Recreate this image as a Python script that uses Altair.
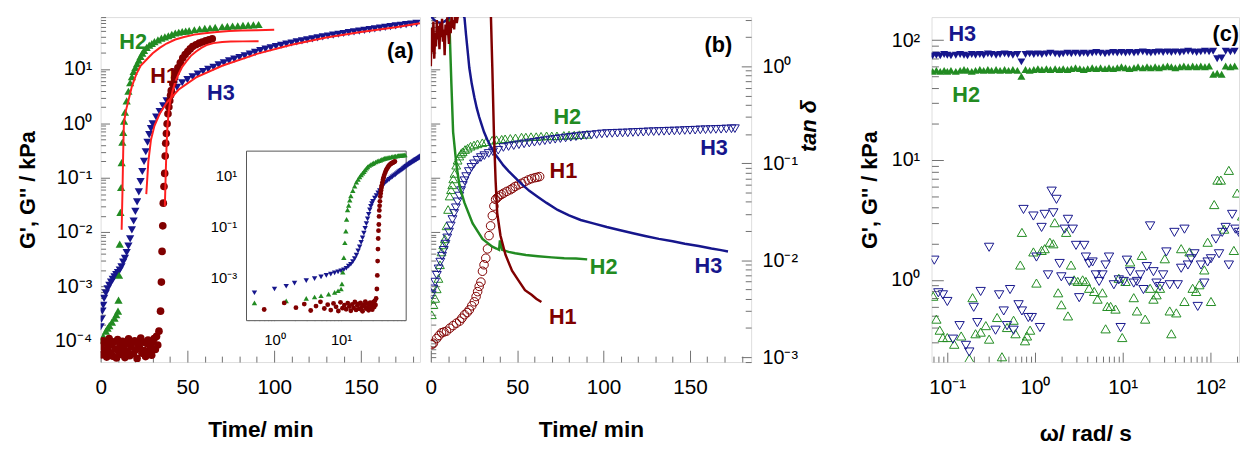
import math
import altair as alt
import pandas as pd

FONT = "Liberation Sans"
GREEN = "#228b22"
NAVY = "#16168c"
DRED = "#800000"
RED = "#ff1f1f"
FRAME = "#555555"
TICK = "#707070"

# ---------------- panel (a): G' vs time ----------------
A_H1_T = [0.0, 0.7, 1.4, 2.1, 2.8, 3.5, 4.2, 4.9, 5.6, 6.3, 7.0, 7.7, 8.4, 9.1, 9.8, 10.5,
          11.2, 11.9, 12.6, 13.3, 14.0, 14.7, 15.4, 16.1, 16.8, 17.5, 18.2, 18.9, 19.6, 20.3,
          21.0, 21.7, 22.4, 23.1, 23.8, 24.5, 25.2, 25.9, 26.6, 27.3, 28.0, 28.7, 29.4, 30.1,
          30.8, 31.5, 32.2, 32.9,
          33.6, 34.5, 35.0, 35.4, 35.8, 36.1, 36.5, 36.9, 37.2, 37.5, 37.9, 38.3, 38.8, 39.3,
          39.8, 40.3, 40.7, 41.6, 42.6, 43.5, 44.5, 45.9, 47.3, 48.7, 50.2, 51.6, 53.0, 54.9,
          56.8, 58.6, 60.5, 62.4, 64.3]
A_H1_G = [8.0e-5, 5.5e-5, 1.0e-4, 6.5e-5, 9.0e-5, 5.0e-5, 7.5e-5, 1.1e-4, 6.0e-5, 8.5e-5,
          5.2e-5, 9.5e-5, 7.0e-5, 4.8e-5, 1.05e-4, 6.2e-5, 8.2e-5, 5.6e-5, 9.8e-5, 7.2e-5,
          4.9e-5, 8.8e-5, 6.4e-5, 1.08e-4, 5.3e-5, 7.8e-5, 9.2e-5, 5.8e-5, 1.0e-4, 6.8e-5,
          4.7e-5, 8.6e-5, 7.4e-5, 1.12e-4, 5.9e-5, 9.4e-5, 6.6e-5, 5.1e-5, 8.9e-5, 1.03e-4,
          6.1e-5, 7.7e-5, 5.4e-5, 9.7e-5, 1.1e-4, 6.9e-5, 1.2e-4, 8.3e-5,
          1.5e-4, 3.5e-4, 1.2e-3, 4.4e-3, 0.013, 0.034, 0.069, 0.12, 0.25, 0.43,
          0.65, 0.98, 1.5, 2.0, 2.6, 3.3, 4.0, 5.3, 6.9, 8.6,
          10.5, 13, 16, 18.5, 21, 23.5, 26, 28, 30, 31.5, 33, 34.5, 36]

A_H2_T = [0.5, 1.5, 3.0, 4.0, 5.0, 6.5, 8.0, 9.0, 10.0, 10.3, 10.6, 11.0, 11.4, 11.8, 12.1,
          12.5, 13.0, 13.5, 14, 15, 16, 17, 18, 19, 20, 21, 22, 23, 24, 25, 26.5, 28, 29.5,
          31, 33, 35, 37, 39, 41, 43, 45, 47, 49, 51, 54, 57, 60, 63, 66, 70, 73, 76, 79, 82,
          85, 88, 91]
A_H2_G = [1.0e-4, 1.2e-4, 1.5e-4, 1.7e-4, 1.9e-4, 2.2e-4, 2.6e-4, 3.0e-4, 3.5e-4, 5.6e-4,
          1.6e-3, 6.0e-3, 0.023, 0.066, 0.19, 0.45, 0.68, 1.1, 1.6, 2.6, 3.9, 5.6, 7.2, 9.0,
          10.7, 12.5, 14.5, 17, 19.5, 22, 25, 27.5, 29.5, 32, 34.5, 37, 39, 41, 43.5, 46,
          47.5, 49, 50, 51, 53, 54.5, 56, 57, 58.5, 60, 61, 62, 62.5, 63.5, 64.5, 65, 66]

A_H3_T = [0, 0.5, 1, 1.5, 2, 3, 4, 5, 6, 7, 8, 9, 10, 11, 12, 13, 14, 15, 16, 17, 18, 19,
          20, 21, 22, 23, 24, 25, 26, 27, 28, 29, 30, 32, 34, 36, 38,
          41, 44, 47, 50, 53, 56, 59, 62, 65, 68, 71, 74, 77, 80, 83, 86, 89, 92, 95, 98,
          101, 104, 107, 110, 113, 116, 119, 122, 125, 128, 131, 134, 137, 140, 143, 146,
          149, 152, 155, 158, 161, 164, 167, 170, 173, 176, 179, 182]
A_H3_G = [1.8e-4, 2.5e-4, 3.5e-4, 4.5e-4, 6.0e-4, 7.5e-4, 9.0e-4, 1.05e-3, 1.2e-3, 1.35e-3,
          1.5e-3, 1.65e-3, 1.8e-3, 2.0e-3, 2.3e-3, 2.8e-3, 3.3e-3, 4.2e-3, 5.5e-3, 7.5e-3,
          0.011, 0.016, 0.024, 0.036, 0.055, 0.085, 0.13, 0.2, 0.3, 0.45, 0.62, 0.8, 0.98,
          1.3, 1.65, 2.1, 2.6,
          3.4, 4.6, 5.6, 6.4, 7.2, 8.1, 9.0, 9.9, 10.8, 11.9, 13.0, 14.1, 15.2, 16.3, 17.5,
          18.8, 20.3, 21.8, 23.2, 24.6, 26.0, 27.4, 28.8, 30.2, 31.6, 33.0, 34.5, 36.0, 37.5,
          39.0, 40.5, 42.0, 43.6, 45.2, 46.8, 48.4, 50.0, 51.6, 53.2, 55.0, 56.8, 58.6, 60.4,
          62.2, 64.0, 65.8, 67.6, 69.4]

A_FIT_H2_T = [12.1, 12.6, 13.0, 13.4, 14.5, 16, 18, 20.5, 23, 26.5, 30, 34, 38, 43, 48, 54,
              60, 67, 74, 81, 90, 100]
A_FIT_H2_G = [0.011, 0.06, 0.3, 1.0, 1.7, 2.6, 4.8, 8.0, 11.5, 15, 19.5, 24.5, 29.5, 35, 39,
              43, 45.5, 48, 50, 51, 52, 53]
A_FIT_H1_T = [37.0, 37.5, 38.0, 38.5, 39.2, 40, 41.5, 43, 45, 47, 49.5, 52, 55, 58, 61, 65,
              70, 75, 82, 91]
A_FIT_H1_G = [0.03, 0.12, 0.4, 0.9, 1.6, 2.5, 4.0, 5.8, 8.2, 11, 14, 17.5, 21, 24.5, 27.5,
              30, 31.5, 32, 32.3, 32.5]
A_FIT_H3_T = [26.3, 27.5, 29, 31, 34, 38, 45, 55, 70, 90, 110, 130, 150, 170, 184]
A_FIT_H3_G = [0.05, 0.2, 0.5, 0.9, 1.5, 2.4, 4.2, 7.0, 11.5, 19, 28, 38, 48, 59, 70]

A_LAB = ["H2", "H1", "H3", "(a)"]
A_LAB_X = [18.7, 36.6, 69.3, 172.7]
A_LAB_Y = [32, 7.5, 3.66, 21]
A_LAB_C = [GREEN, DRED, NAVY, "black"]

# ---------------- panel (b): G'' (symbols) and tan delta (lines) ----------------
B_H2_T = [0.6, 1.5, 2.5, 3.4, 4.4, 5.3, 6.2, 7.2, 8.1, 9.1, 10.0, 10.9, 11.7, 12.4, 13.0,
          13.7, 14.7, 15.5, 16.5, 17.5, 18.4, 19.8, 21.3, 23, 25, 27, 29.8, 32, 35.5, 38,
          41, 43, 46, 49, 52.5, 55, 58, 61, 63.8, 67, 70, 73, 77, 80, 83, 86, 90.3]
B_H2_G = [3.0e-4, 4.6e-4, 6.0e-4, 9.0e-4, 1.4e-3, 2.5e-3, 4.3e-3, 5.8e-3, 7.5e-3, 0.013,
          0.026, 0.046, 0.06, 0.074, 0.095, 0.12, 0.17, 0.21, 0.25, 0.28, 0.30, 0.33, 0.35,
          0.38, 0.40, 0.42, 0.44, 0.46, 0.49, 0.50, 0.51, 0.52, 0.53, 0.54, 0.56, 0.56, 0.57,
          0.57, 0.58, 0.59, 0.59, 0.59, 0.60, 0.61, 0.61, 0.62, 0.63]

B_H3_T = [0.5, 1.5, 2.5, 3.5, 4.5, 5.5, 6.5, 7.5, 8.5, 9.5, 10.5, 11.5, 12.5, 13.5, 14.5,
          15.5, 16.5, 17.5, 18.5, 19.5, 20.5, 22, 23.5, 25, 27, 29, 31, 33.5, 36, 39,
          42, 45, 48, 51, 54, 57, 60, 63, 66, 69, 72, 75, 78, 81, 84, 87, 90, 93, 96, 99,
          102, 105, 108, 111, 114, 117, 120, 123, 126, 129, 132, 135, 138, 141, 144, 147,
          150, 153, 156, 159, 162, 165, 168, 171, 174, 176]
B_H3_G = [7e-4, 9e-4, 1.2e-3, 1.6e-3, 2.1e-3, 2.8e-3, 3.6e-3, 4.6e-3, 6.0e-3, 7.8e-3, 0.010,
          0.013, 0.017, 0.022, 0.028, 0.036, 0.046, 0.058, 0.072, 0.088, 0.105,
          0.13, 0.155, 0.18, 0.21, 0.235, 0.255, 0.28, 0.30, 0.32,
          0.36, 0.375, 0.39, 0.405, 0.42, 0.435, 0.45, 0.465, 0.48, 0.495,
          0.51, 0.525, 0.54, 0.555, 0.57, 0.585, 0.60, 0.61, 0.625, 0.64,
          0.65, 0.655, 0.66, 0.665, 0.67, 0.68, 0.685, 0.69, 0.70, 0.705,
          0.71, 0.715, 0.72, 0.725, 0.73, 0.74, 0.745, 0.75, 0.76, 0.765,
          0.77, 0.775, 0.78, 0.79, 0.795, 0.80]

B_H1_T = [0.6, 1.5, 3.4, 4.8, 6.2, 7.6, 9.1, 11, 12.9, 14.8, 16.7, 18, 19.5, 21, 22.3, 23.7,
          25.2, 26.2, 27.1, 28, 29, 29.9, 30.8, 31.8, 32.8, 33.7, 34.6, 35.6, 36.5, 37.5,
          38.5, 39.4, 40.8, 42.2, 44, 46, 47.4, 48.8, 50.7, 52.6, 54.5, 56.4, 58.3, 60.2,
          61.6, 63]
B_H1_G = [8.5e-5, 9e-5, 1.1e-4, 1.25e-4, 1.4e-4, 1.45e-4, 1.5e-4, 1.7e-4, 1.9e-4, 2.1e-4,
          2.3e-4, 2.6e-4, 3.0e-4, 3.3e-4, 3.7e-4, 4.4e-4, 5.2e-4, 6.5e-4, 8e-4, 1.0e-3,
          1.2e-3, 1.9e-3, 2.5e-3, 3.3e-3, 4.9e-3, 8.6e-3, 0.013, 0.020, 0.030, 0.040,
          0.043, 0.046, 0.049, 0.052, 0.056, 0.060, 0.064, 0.069, 0.074, 0.079,
          0.085, 0.091, 0.096, 0.10, 0.102, 0.105]

B_TAN_H3_T = [0, 2, 4, 6, 8, 10, 12, 15, 18, 19.5, 20.4, 21.3, 22.3, 23.7, 25.2, 26.6, 28,
              29.4, 30.8, 32.7, 34.6, 37, 39.4, 42, 45, 48.8, 52.6, 57, 62, 67, 73.4, 80,
              86.7, 94, 101.8, 109, 117, 124, 132, 140, 147, 155, 162.4, 168, 172]
B_TAN_H3 = [3.3, 3.0, 2.85, 2.8, 2.9, 3.1, 3.5, 4.0, 3.6, 3.16, 2.1, 1.45, 0.96, 0.66, 0.48,
            0.37, 0.30, 0.25, 0.21, 0.175, 0.15, 0.125, 0.11, 0.095, 0.083, 0.071, 0.061,
            0.052, 0.045, 0.039, 0.033, 0.029, 0.026, 0.024, 0.022, 0.0205, 0.019, 0.0178,
            0.0166, 0.0157, 0.0148, 0.014, 0.0132, 0.0127, 0.0123]
B_TAN_H2_T = [8, 10.5, 11, 11.9, 12.9, 14.8, 16.7, 19.5, 24.2, 29.9, 35.6, 38, 39.5, 40, 41.3,
              45, 48.8, 55, 62, 70, 77.2, 84, 90.5]
B_TAN_H2 = [5.0, 3.5, 2.07, 0.66, 0.21, 0.097, 0.057, 0.039, 0.024, 0.0166, 0.0138, 0.0132,
            0.0128, 0.016, 0.0128, 0.0122, 0.0118, 0.0113, 0.011, 0.0107, 0.0105, 0.0104,
            0.0102]
B_TAN_H1_T = [0, 0.5, 1, 1.5, 2, 2.5, 3, 3.5, 4, 4.5, 5, 5.5, 6, 6.5, 7, 7.5, 8, 8.5, 9, 9.5,
              10, 10.5, 11, 11.5, 12, 12.5, 13, 13.5, 14, 15, 16, 20, 30, 34, 34.8, 35.6,
              36.5, 37.5, 38.4, 40.3, 43.2, 47, 50.7, 54.5, 58.3, 61, 64]
B_TAN_H1 = [1.0, 2.5, 1.4, 2.9, 1.2, 2.2, 1.6, 3.0, 1.9, 2.6, 1.5, 2.8, 2.0, 3.1, 1.8, 2.4,
            1.3, 2.7, 2.1, 3.2, 2.3, 1.7, 2.9, 2.2, 3.3, 2.5, 3.0, 2.4, 3.4, 2.8, 3.6, 6, 8,
            5, 3.2, 0.96, 0.21, 0.066, 0.031, 0.018, 0.0114, 0.0078, 0.0062, 0.0049, 0.0044,
            0.0040, 0.0037]

B_LAB = ["H2", "H3", "H1", "H2", "H3", "H1", "(b)"]
B_LAB_X = [79, 163.9, 76.7, 100, 160.7, 76.4, 166.4]
B_LAB_Y = [0.296, 0.142, 0.083, 0.0084, 0.0087, 0.0026, 1.66]
B_LAB_C = [GREEN, NAVY, DRED, GREEN, NAVY, DRED, "black"]

# ---------------- panel (c): frequency sweep ----------------
C_W = [0.068, 0.075, 0.083, 0.092, 0.10, 0.11, 0.125, 0.14, 0.155, 0.17, 0.19, 0.21, 0.235,
       0.26, 0.29, 0.32, 0.36, 0.40, 0.45, 0.50, 0.56, 0.63, 0.70, 0.78, 0.87, 0.97, 1.08,
       1.2, 1.35, 1.5, 1.7, 1.9, 2.1, 2.35, 2.6, 2.9, 3.25, 3.6, 4.0, 4.5, 5.0, 5.6, 6.3,
       7.0, 7.8, 8.7, 9.7, 10.8, 12, 13.5, 15, 17, 19, 21, 23.5, 26, 29, 32.5, 36, 40, 45,
       50, 56, 63, 70, 78, 87, 97, 108, 120, 135, 150, 170, 190]
C_H3_GP = [74, 75, 74, 76, 75, 74, 75, 76, 75, 74, 76, 75, 76, 75, 77, 76, 75, 76, 77, 76,
           75, 76, 66, 76, 77, 76, 77, 76, 77, 78, 77, 76, 77, 78, 77, 78, 77, 78, 77, 78,
           79, 78, 77, 78, 79, 78, 79, 78, 79, 78, 79, 80, 79, 78, 79, 80, 79, 80, 79, 80,
           79, 80, 81, 80, 79, 80, 81, 80, 81, 70, 71, 81, 80, 81]
C_H2_GP = [55, 56, 55, 56, 55, 56, 55, 56, 57, 56, 55, 56, 57, 56, 57, 56, 57, 56, 57, 56,
           57, 56, 50, 57, 56, 57, 58, 57, 58, 57, 58, 57, 58, 57, 58, 59, 58, 57, 58, 59,
           58, 59, 58, 59, 58, 59, 60, 59, 58, 59, 60, 59, 60, 59, 60, 59, 60, 61, 60, 59,
           60, 61, 60, 61, 60, 61, 60, 61, 52, 53, 52, 61, 60, 61]

C_H3_W = [0.071, 0.079, 0.089, 0.10, 0.116, 0.138, 0.163, 0.178, 0.20, 0.22, 0.24, 0.30,
          0.355, 0.39, 0.44, 0.48, 0.52, 0.57, 0.65, 0.71, 0.74, 0.84, 0.92, 0.96, 1.04,
          1.14, 1.19, 1.29, 1.41, 1.55, 1.62, 1.76, 1.91, 2.0, 2.18, 2.38, 2.48, 2.7, 2.94,
          3.2, 3.65, 3.81, 4.15, 4.54, 4.95, 5.4, 5.89, 6.4, 7.0, 7.95, 9.05, 9.5, 10.3,
          11.2, 12.2, 13.4, 14.6, 15.9, 17.3, 18.9, 20.6, 22.5, 24.4, 26.7, 29, 31.6, 34.5,
          39, 42.6, 46.6, 50.8, 55.6, 60.6, 66, 72, 78.5, 85.6, 93.4, 102, 116, 126, 137,
          150, 163, 178, 194, 212, 231, 252]
C_H3_GPP = [1.46, 0.78, 0.75, 0.66, 0.32, 0.415, 0.284, 0.25, 0.59, 0.44, 0.80, 1.87, 0.38,
            0.75, 0.55, 0.415, 0.83, 0.38, 0.62, 0.55, 3.87, 0.485, 0.485, 3.41, 1.55, 0.40,
            2.74, 3.52, 1.1, 5.5, 3.63, 4.7, 1.37, 1.06, 2.65, 3.2, 0.97, 2.65, 1.94, 0.71,
            1.94, 1.55, 1.37, 1.41, 1.1, 0.97, 1.1, 1.33, 1.55, 0.91, 1.0, 0.40, 0.97, 1.46,
            1.17, 0.94, 0.97, 1.1, 0.83, 1.29, 2.82, 1.17, 0.94, 0.88, 1.1, 1.71, 0.91, 2.49,
            0.91, 1.25, 2.65, 1.33, 1.5, 1.65, 0.60, 1.33, 0.94, 1.41, 1.5, 2.19, 1.65, 2.49,
            2.74, 1.33, 3.52, 2.65, 2.49, 2.34, 2.49]
C_H2_W = [0.069, 0.075, 0.082, 0.089, 0.10, 0.12, 0.144, 0.178, 0.194, 0.21, 0.24, 0.275,
          0.30, 0.37, 0.42, 0.48, 0.57, 0.60, 0.68, 0.71, 0.77, 0.81, 0.88, 0.96, 1.04, 1.19,
          1.29, 1.48, 1.62, 1.68, 1.84, 2.0, 2.27, 2.38, 2.58, 2.8, 3.08, 3.5, 3.81, 4.15,
          4.74, 5.17, 5.89, 6.4, 6.7, 7.3, 8.3, 9.05, 9.9, 10.8, 12.2, 13.4, 14.6, 16.6,
          18.1, 20.6, 22.5, 24.4, 26.7, 30.3, 34.5, 36, 41, 46.6, 50.8, 58, 63, 69, 75, 85.6,
          93.4, 102, 111, 121, 132, 144, 163, 186, 203, 231, 252]
C_H2_GPP = [0.73, 0.47, 0.38, 0.33, 0.33, 0.29, 0.34, 0.22, 0.71, 0.355, 0.366, 0.415, 0.32,
            0.485, 0.228, 0.40, 0.46, 0.355, 1.33, 2.49, 0.31, 0.34, 0.38, 1.71, 0.94, 1.76,
            1.82, 2.06, 2.0, 3.0, 0.78, 0.62, 2.49, 0.50, 1.33, 1.0, 0.97, 1.0, 0.97, 0.85,
            0.80, 0.69, 0.78, 0.39, 0.60, 0.60, 0.57, 1.03, 0.33, 0.97, 1.41, 0.71, 0.55, 1.6,
            0.47, 0.85, 0.69, 0.75, 0.85, 1.5, 0.55, 0.355, 0.53, 1.82, 0.66, 1.71, 0.85,
            0.80, 0.91, 1.21, 2.06, 0.66, 4.25, 6.8, 6.8, 2.65, 8.2, 1.76, 5.3, 3.41, 1.21]

C_LAB = ["H3", "H2", "(c)"]
C_LAB_X = [0.148, 0.164, 150]
C_LAB_Y = [113, 35, 113]
C_LAB_C = [NAVY, GREEN, "black"]

# ---------------- layout / scales ----------------
H = 350
WA, WB, WC = 324, 325, 312

XA = dict(type="linear", domain=[0, 184])
YA = dict(type="log", domain=[4.05e-5, 90.4])
XI = dict(type="log", domain=[0.38, 95], range=[148, 310])
YI = dict(type="log", domain=[2.0e-5, 92], range=[308, 136])
XB = dict(type="linear", domain=[0, 185.4])
YBT = dict(type="log", domain=[8.9e-4, 3.22])
XC = dict(type="log", domain=[0.066, 213])
YC = dict(type="log", domain=[0.206, 156])


def S(d):
    return alt.Scale(nice=False, zero=False, **d)


SUPMAP = str.maketrans("0123456789-", "⁰¹²³⁴⁵⁶⁷⁸⁹⁻")


def pow_expr(exps):
    s = "''"
    for e in exps:
        lab = "10" + str(e).translate(SUPMAP)
        s = f"(abs(log(datum.value)/LN10 - ({e})) < 0.01 ? '{lab}' : {s})"
    return s


def log_minor(lo, hi):
    out = []
    e = math.floor(math.log10(lo))
    while 10.0 ** e <= hi:
        for m in range(2, 10):
            v = m * 10.0 ** e
            if lo <= v <= hi:
                out.append(v)
        e += 1
    return out


def AX(orient, values, ts, labels=False, expr=None, title=None, size=20, pad=10,
       offset=None, **kw):
    d = dict(orient=orient, values=values, tickSize=ts,
             offset=(-ts if offset is None else offset),
             domain=False, grid=False, ticks=True, tickColor=TICK, tickWidth=1,
             labels=labels, labelFont=FONT, labelFontSize=size, labelColor="black",
             labelPadding=pad, labelFlush=False, labelOverlap=False, labelBound=False,
             title=title, titleFont=FONT, titleFontSize=22, titleFontWeight="bold",
             titleColor="black")
    if expr is not None:
        d["labelExpr"] = expr
    d.update(kw)
    return alt.Axis(**d)


def pts(T, V, xs, ys, shape, color, filled, size, xaxis=None, yaxis=None, sw=1.0, flt=None):
    ch = alt.Chart(pd.DataFrame({"x": T, "y": V}))
    if flt:
        ch = ch.transform_filter(flt)
    return ch.mark_point(shape=shape, filled=filled, size=size, color=color, opacity=1,
                         strokeWidth=sw, clip=True).encode(
        x=alt.X("x:Q", scale=S(xs), axis=xaxis),
        y=alt.Y("y:Q", scale=S(ys), axis=yaxis))


def line(T, V, xs, ys, color, width, xaxis=None, yaxis=None):
    return alt.Chart(pd.DataFrame({"x": T, "y": V})).mark_line(
        color=color, strokeWidth=width, clip=True).encode(
        x=alt.X("x:Q", scale=S(xs), axis=xaxis),
        y=alt.Y("y:Q", scale=S(ys), axis=yaxis))


def txt(L, X, Y, C, xs, ys, size=22):
    df = pd.DataFrame({"t": L, "x": X, "y": Y, "c": C})
    return alt.Chart(df).mark_text(font=FONT, fontSize=size, fontWeight="bold",
                                   align="center", baseline="middle").encode(
        x=alt.X("x:Q", scale=S(xs), axis=None),
        y=alt.Y("y:Q", scale=S(ys), axis=None),
        text="t:N",
        color=alt.Color("c:N", scale=None))


MINOR_T = [10, 20, 30, 40, 60, 70, 80, 90, 110, 120, 130, 140, 160, 170, 180]

# ---------------- panel (a) ----------------
inset_box = alt.Chart(pd.DataFrame({
    "x0": [XI["domain"][0]], "x1": [XI["domain"][1]],
    "y0": [YI["domain"][0]], "y1": [YI["domain"][1]]})).mark_rect(
    fill="white", stroke=FRAME, strokeWidth=1).encode(
    x=alt.X("x0:Q", scale=S(XI), axis=None), x2="x1:Q",
    y=alt.Y("y0:Q", scale=S(YI), axis=None), y2="y1:Q")

A_layers = [
    pts(A_H3_T, A_H3_G, XA, YA, "triangle-down", NAVY, True, 70,
        xaxis=AX("bottom", [0, 50, 100, 150], 12, labels=True, title="Time/ min", size=21,
                 pad=15, titlePadding=22, titleFontSize=23),
        yaxis=AX("left", [1e-4, 1e-3, 1e-2, 1e-1, 1, 10], 9, labels=True,
                 expr=pow_expr(range(-4, 2)), title="G', G'' / kPa", size=20, pad=9,
                 titlePadding=15)),
    pts(A_H2_T, A_H2_G, XA, YA, "triangle-up", GREEN, True, 70,
        xaxis=AX("bottom", MINOR_T, 6), yaxis=AX("left", log_minor(4.05e-5, 90.4), 5)),
    pts(A_H1_T, A_H1_G, XA, YA, "circle", DRED, True, 60),
    line(A_FIT_H2_T, A_FIT_H2_G, XA, YA, RED, 2),
    line(A_FIT_H1_T, A_FIT_H1_G, XA, YA, RED, 2),
    line(A_FIT_H3_T, A_FIT_H3_G, XA, YA, RED, 2),
    txt(A_LAB, A_LAB_X, A_LAB_Y, A_LAB_C, XA, YA),
    inset_box,
    pts(A_H3_T, A_H3_G, XI, YI, "triangle-down", NAVY, True, 30, flt="datum.x > 0.3",
        xaxis=AX("bottom", [1, 10], 6, labels=True, expr=pow_expr([0, 1]), size=15, pad=12,
                 offset=-48),
        yaxis=AX("left", [1e-3, 1e-1, 10], 5, labels=True, expr=pow_expr([-3, -1, 1]),
                 size=15, pad=10, offset=-153)),
    pts(A_H2_T, A_H2_G, XI, YI, "triangle-up", GREEN, True, 30, flt="datum.x > 0.3",
        xaxis=AX("bottom", log_minor(0.38, 95), 3, offset=-45)),
    pts(A_H1_T, A_H1_G, XI, YI, "circle", DRED, True, 24, flt="datum.x > 0.3"),
]
panel_a = alt.layer(*A_layers).resolve_scale(x="independent", y="independent").properties(
    width=WA, height=H)

# ---------------- panel (b) ----------------
B_layers = [
    pts(B_H2_T, B_H2_G, XB, YA, "triangle-up", GREEN, False, 80,
        xaxis=AX("bottom", [0, 50, 100, 150], 12, labels=True, title="Time/ min", size=21,
                 pad=15, titlePadding=22, titleFontSize=23),
        yaxis=AX("left", [1e-4, 1e-3, 1e-2, 1e-1, 1, 10], 9)),
    pts(B_H3_T, B_H3_G, XB, YA, "triangle-down", NAVY, False, 80,
        xaxis=AX("bottom", MINOR_T, 6), yaxis=AX("left", log_minor(4.05e-5, 90.4), 5)),
    pts(B_H1_T, B_H1_G, XB, YA, "circle", DRED, False, 75),
    line(B_TAN_H2_T, B_TAN_H2, XB, YBT, GREEN, 2.5,
         yaxis=AX("right", [1e-3, 1e-2, 1e-1, 1], 10, labels=True,
                  expr=pow_expr([-3, -2, -1, 0]), title="tan δ", size=20, pad=11,
                  titleFontStyle="italic", titleAngle=270, titleX=68, titleY=110,
                  titleAlign="center", titleBaseline="middle")),
    line(B_TAN_H3_T, B_TAN_H3, XB, YBT, NAVY, 2.5,
         yaxis=AX("right", log_minor(8.9e-4, 3.22), 6)),
    line(B_TAN_H1_T, B_TAN_H1, XB, YBT, DRED, 2.5),
    txt(B_LAB, B_LAB_X, B_LAB_Y, B_LAB_C, XB, YBT),
]
panel_b = alt.layer(*B_layers).resolve_scale(x="independent", y="independent").properties(
    width=WB, height=H)

# ---------------- panel (c) ----------------
C_layers = [
    pts(C_W, C_H2_GP, XC, YC, "triangle-up", GREEN, True, 65,
        xaxis=AX("bottom", log_minor(0.066, 213), 6),
        yaxis=AX("left", log_minor(0.206, 156), 7)),
    pts(C_W, C_H3_GP, XC, YC, "triangle-down", NAVY, True, 65,
        xaxis=AX("bottom", [0.1, 1, 10, 100], 10, labels=True, expr=pow_expr([-1, 0, 1, 2]),
                 title="ω/ rad/ s", size=21, pad=15, titlePadding=26, titleFontSize=23),
        yaxis=AX("left", [1, 10, 100], 12, labels=True, expr=pow_expr([0, 1, 2]),
                 title="G', G'' / kPa", size=20, pad=12, titlePadding=10)),
    pts(C_H2_W, C_H2_GPP, XC, YC, "triangle-up", GREEN, False, 90),
    pts(C_H3_W, C_H3_GPP, XC, YC, "triangle-down", NAVY, False, 90),
    txt(C_LAB, C_LAB_X, C_LAB_Y, C_LAB_C, XC, YC),
]
panel_c = alt.layer(*C_layers).resolve_scale(x="independent", y="independent").properties(
    width=WC, height=H)

chart = alt.hconcat(alt.hconcat(panel_a, panel_b, spacing=3), panel_c, spacing=38).properties(
    padding={"left": 8, "top": 5, "right": 0, "bottom": 0}
).configure_view(stroke=FRAME, strokeWidth=1).configure(font=FONT)

chart.save("out.html", embed_options={"renderer": "svg", "actions": False})
